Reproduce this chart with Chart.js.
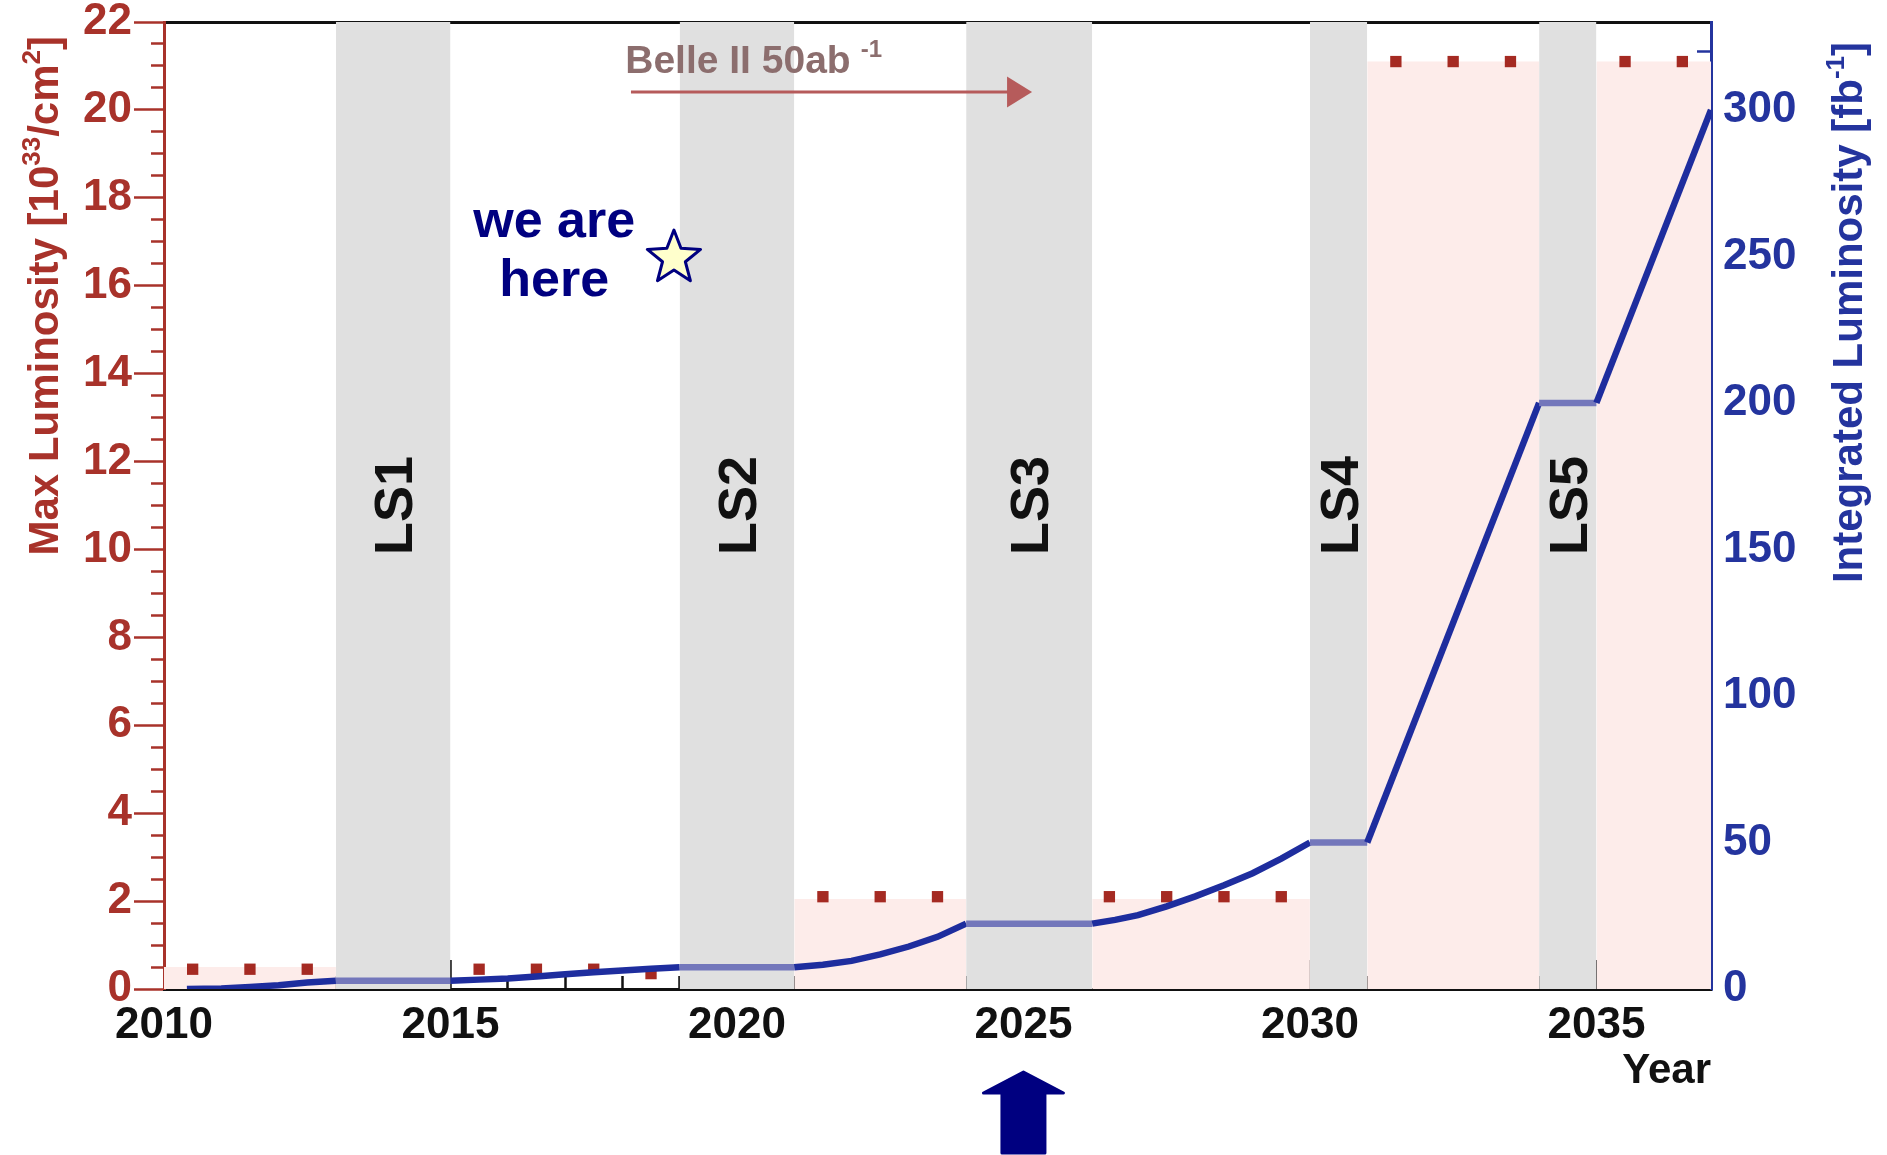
<!DOCTYPE html>
<html>
<head>
<meta charset="utf-8">
<title>Luminosity plan</title>
<script src="https://cdn.jsdelivr.net/npm/chart.js@4.4.1/dist/chart.umd.min.js"></script>
<style>
  html, body { margin: 0; padding: 0; background: #fff; }
  #wrap { position: relative; width: 1887px; height: 1155px; }
</style>
</head>
<body>
<div id="wrap"><canvas id="lumiChart"></canvas></div>
<script>
// integrated luminosity [fb^-1], right axis
const intYears = [2010.4, 2011.0, 2011.5, 2012.0, 2012.5, 2013.0, 2015.0, 2015.5, 2016.0, 2016.5,
  2017.0, 2017.5, 2018.0, 2018.5, 2019.0, 2021.0, 2021.5, 2022.0, 2022.5, 2023.0, 2023.5, 2024.0,
  2026.2, 2026.6, 2027.0, 2027.5, 2028.0, 2028.5, 2029.0, 2029.5, 2030.0, 2031.0, 2034.0, 2035.0, 2037.0];
const intLumi = [0, 0.2, 0.7, 1.3, 2.2, 2.8, 2.8, 3.2, 3.6, 4.3,
  5.0, 5.7, 6.3, 6.9, 7.4, 7.4, 8.3, 9.6, 11.8, 14.5, 17.8, 22.3,
  22.3, 23.6, 25.2, 28.2, 31.6, 35.4, 39.5, 44.5, 50, 50, 200, 200, 300];

// peak luminosity per year [10^33 /cm^2], left axis
const peakYears = [2010.5, 2011.5, 2012.5, 2015.5, 2016.5, 2017.5, 2018.5, 2021.5, 2022.5, 2023.5,
  2026.5, 2027.5, 2028.5, 2029.5, 2031.5, 2032.5, 2033.5, 2035.5, 2036.5];
const peakLumi = [0.45, 0.45, 0.45, 0.45, 0.45, 0.45, 0.35, 2.1, 2.1, 2.1,
  2.1, 2.1, 2.1, 2.1, 21.1, 21.1, 21.1, 21.1, 21.1];

// long shutdowns
const lsNames = ['LS1', 'LS2', 'LS3', 'LS4', 'LS5'];
const lsStart = [2013, 2019, 2024, 2030, 2034];
const lsEnd = [2015, 2021, 2026.2, 2031, 2035];

// design peak luminosity of each run
const runStart = [2010, 2021, 2026.2, 2031, 2035];
const runEnd = [2013, 2024, 2030, 2034, 2037];
const runLevel = [0.5, 2.05, 2.05, 21.1, 21.1];

// labelled ticks
const yearLabels = [2010, 2015, 2020, 2025, 2030, 2035];
const peakLabels = [0, 2, 4, 6, 8, 10, 12, 14, 16, 18, 20, 22];
const intLabels = [0, 50, 100, 150, 200, 250, 300];

const family = '"Liberation Sans", Arial, Helvetica, sans-serif';
const red = '#a8322a';
const blue = '#24349e';
const lineBlue = '#1e2d9e';
const lineLight = '#7377bb';
const navy = '#000080';

Chart.defaults.font.family = family;

function inShutdown(a, b) {
  return lsStart.some((s, i) => a >= s - 1e-6 && b <= lsEnd[i] + 1e-6);
}

function band(x0, x1, top, color, order) {
  return {
    data: [{ x: x0, y: top }, { x: x1, y: top }],
    yAxisID: 'y',
    fill: 'origin',
    backgroundColor: color,
    borderColor: 'rgba(0,0,0,0)',
    borderWidth: 0,
    pointRadius: 0,
    order: order
  };
}

// fixed box sizes so the plot frame lands where it should
function sizeBox(w, h) {
  return s => {
    if (w !== null) s.width = w;
    if (h !== null) s.height = h;
    s.paddingTop = 0; s.paddingBottom = 0; s.paddingLeft = 0; s.paddingRight = 0;
  };
}

// text with superscripts, drawn along the baseline from x0
function richWidth(ctx, parts, size) {
  let w = 0;
  parts.forEach(p => {
    ctx.font = 'bold ' + (p.sup ? Math.round(size * 0.62) : size) + 'px ' + family;
    w += ctx.measureText(p.t).width + (p.gap || 0);
  });
  return w;
}
function drawRich(ctx, parts, size, x0) {
  let x = x0;
  parts.forEach(p => {
    x += p.gap || 0;
    ctx.font = 'bold ' + (p.sup ? Math.round(size * 0.62) : size) + 'px ' + family;
    ctx.fillText(p.t, x, p.sup ? -size * 0.42 : 0);
    x += ctx.measureText(p.t).width;
  });
}

function drawStar(ctx, cx, cy, R, r) {
  ctx.beginPath();
  for (let k = 0; k < 10; k++) {
    const rad = k % 2 === 0 ? R : r;
    const a = -Math.PI / 2 + k * Math.PI / 5;
    const px = cx + rad * Math.cos(a), py = cy + rad * Math.sin(a);
    if (k === 0) ctx.moveTo(px, py); else ctx.lineTo(px, py);
  }
  ctx.closePath();
}

const notes = {
  id: 'notes',
  afterDraw(chart) {
    const { ctx, chartArea, scales: { x, y } } = chart;
    ctx.save();

    // shutdown names
    ctx.fillStyle = '#111';
    ctx.font = 'bold 54px ' + family;
    ctx.textAlign = 'center';
    ctx.textBaseline = 'alphabetic';
    lsNames.forEach((name, i) => {
      ctx.save();
      ctx.translate(x.getPixelForValue((lsStart[i] + lsEnd[i]) / 2), y.getPixelForValue(11));
      ctx.rotate(-Math.PI / 2);
      ctx.fillText(name, 0, 19);
      ctx.restore();
    });

    // Belle II reference arrow
    ctx.textAlign = 'left';
    ctx.fillStyle = '#8c6e6e';
    ctx.save();
    ctx.translate(x.getPixelForValue(2018.05), y.getPixelForValue(20.84));
    drawRich(ctx, [{ t: 'Belle II 50ab' }, { t: '-1', sup: true, gap: 10 }], 39, 0);
    ctx.restore();
    const ay = y.getPixelForValue(20.41);
    const ax0 = x.getPixelForValue(2018.15), ax1 = x.getPixelForValue(2025.15);
    ctx.strokeStyle = '#b65b5b';
    ctx.fillStyle = '#b65b5b';
    ctx.lineWidth = 3;
    ctx.beginPath();
    ctx.moveTo(ax0, ay);
    ctx.lineTo(ax1 - 20, ay);
    ctx.stroke();
    ctx.beginPath();
    ctx.moveTo(ax1, ay);
    ctx.lineTo(ax1 - 25, ay - 15.5);
    ctx.lineTo(ax1 - 25, ay + 15.5);
    ctx.closePath();
    ctx.fill();

    // "we are here" with star
    ctx.fillStyle = navy;
    ctx.font = 'bold 52px ' + family;
    ctx.textAlign = 'center';
    const tx = x.getPixelForValue(2016.81);
    ctx.fillText('we are', tx, y.getPixelForValue(17.11));
    ctx.fillText('here', tx, y.getPixelForValue(15.77));
    drawStar(ctx, x.getPixelForValue(2018.9), y.getPixelForValue(16.63), 28, 12);
    ctx.fillStyle = '#ffffcc';
    ctx.fill();
    ctx.strokeStyle = navy;
    ctx.lineWidth = 3;
    ctx.lineJoin = 'round';
    ctx.stroke();

    // arrow under the current year
    const cx = x.getPixelForValue(2025);
    const top = chartArea.bottom + 83, neck = chartArea.bottom + 104, foot = chartArea.bottom + 164;
    ctx.beginPath();
    ctx.moveTo(cx, top);
    ctx.lineTo(cx + 40, neck);
    ctx.lineTo(cx + 21.5, neck);
    ctx.lineTo(cx + 21.5, foot);
    ctx.lineTo(cx - 21.5, foot);
    ctx.lineTo(cx - 21.5, neck);
    ctx.lineTo(cx - 40, neck);
    ctx.closePath();
    ctx.fillStyle = navy;
    ctx.fill();
    ctx.stroke();

    // axis titles, both reading upwards
    const leftTitle = [{ t: 'Max Luminosity [10' }, { t: '33', sup: true }, { t: '/cm' }, { t: '2', sup: true }, { t: ']' }];
    const rightTitle = [{ t: 'Integrated Luminosity [fb' }, { t: '-1', sup: true }, { t: ']' }];
    ctx.textAlign = 'left';
    ctx.textBaseline = 'alphabetic';

    ctx.save();
    ctx.fillStyle = red;
    ctx.translate(58, 36);
    ctx.rotate(-Math.PI / 2);
    drawRich(ctx, leftTitle, 42, -richWidth(ctx, leftTitle, 42));
    ctx.restore();

    ctx.save();
    ctx.fillStyle = blue;
    ctx.translate(chart.width - 25, 42);
    ctx.rotate(-Math.PI / 2);
    drawRich(ctx, rightTitle, 42, -richWidth(ctx, rightTitle, 42));
    ctx.restore();

    ctx.restore();
  }
};

const datasets = [
  {
    data: intYears.map((v, i) => ({ x: v, y: intLumi[i] })),
    yAxisID: 'y1',
    borderColor: lineBlue,
    borderWidth: 6.5,
    pointRadius: 0,
    fill: false,
    segment: {
      borderColor: c => inShutdown(c.p0.parsed.x, c.p1.parsed.x) ? lineLight : lineBlue
    },
    order: 0
  },
  {
    data: peakYears.map((v, i) => ({ x: v, y: peakLumi[i] })),
    yAxisID: 'y',
    showLine: false,
    pointStyle: 'rect',
    pointRadius: 8,
    pointBorderWidth: 0,
    pointBackgroundColor: '#a52a22',
    order: 1
  }
];
lsStart.forEach((s, i) => datasets.push(band(s, lsEnd[i], 22, '#e0e0e0', 2)));
runStart.forEach((s, i) => datasets.push(band(s, runEnd[i], runLevel[i], '#fdecea', 3)));

const labelFont = { size: 44, weight: 'bold' };

new Chart(document.getElementById('lumiChart'), {
  type: 'line',
  data: { datasets: datasets },
  options: {
    responsive: true,
    maintainAspectRatio: false,
    animation: false,
    events: [],
    layout: { padding: 0 },
    plugins: { legend: { display: false }, tooltip: { enabled: false } },
    scales: {
      x: {
        type: 'linear', position: 'bottom', min: 2010, max: 2037,
        afterFit: sizeBox(null, 166),
        border: { color: '#111', width: 3 },
        grid: {
          drawOnChartArea: false, tickLength: -29, tickWidth: 2.5,
          tickColor: c => (c.tick && c.tick.value === 2037) ? 'rgba(0,0,0,0)' : '#111',
          tickBorderDash: c => (c.tick && !yearLabels.includes(c.tick.value)) ? [15, 100] : []
        },
        ticks: {
          stepSize: 1, autoSkip: false, maxRotation: 0, padding: 39, color: '#111', font: labelFont,
          callback: v => yearLabels.includes(v) ? String(v) : ''
        },
        title: {
          display: true, text: 'Year', align: 'end', color: '#111',
          font: { size: 42, weight: 'bold' }, padding: { top: 0, bottom: 58 }
        }
      },
      xTop: {
        type: 'linear', position: 'top', min: 2010, max: 2037,
        afterFit: sizeBox(null, 22),
        border: { color: '#111', width: 3 },
        grid: { drawOnChartArea: false, drawTicks: false },
        ticks: { display: false }
      },
      y: {
        type: 'linear', position: 'left', min: 0, max: 22,
        afterFit: sizeBox(164, null),
        border: { color: red, width: 3 },
        grid: {
          drawOnChartArea: false, tickLength: 30, tickWidth: 2.5, tickColor: red,
          tickBorderDash: c => (c.tick && !peakLabels.includes(c.tick.value)) ? [0, 17, 20, 0] : []
        },
        ticks: {
          stepSize: 0.5, autoSkip: false, padding: 2, color: red, font: labelFont,
          callback: v => peakLabels.includes(v) ? String(v) : ''
        }
      },
      y1: {
        type: 'linear', position: 'right', min: 0, max: 330,
        afterFit: sizeBox(176, null),
        border: { color: blue, width: 3 },
        grid: {
          drawOnChartArea: false, tickLength: -38, tickWidth: 2.5, tickColor: blue,
          tickBorderDash: c => (c.tick && !intLabels.includes(c.tick.value)) ? [16, 100] : []
        },
        ticks: {
          stepSize: 10, autoSkip: false, padding: 50, color: blue, font: labelFont,
          callback: v => intLabels.includes(v) ? String(v) : ''
        }
      }
    }
  },
  plugins: [notes]
});
</script>
</body>
</html>
